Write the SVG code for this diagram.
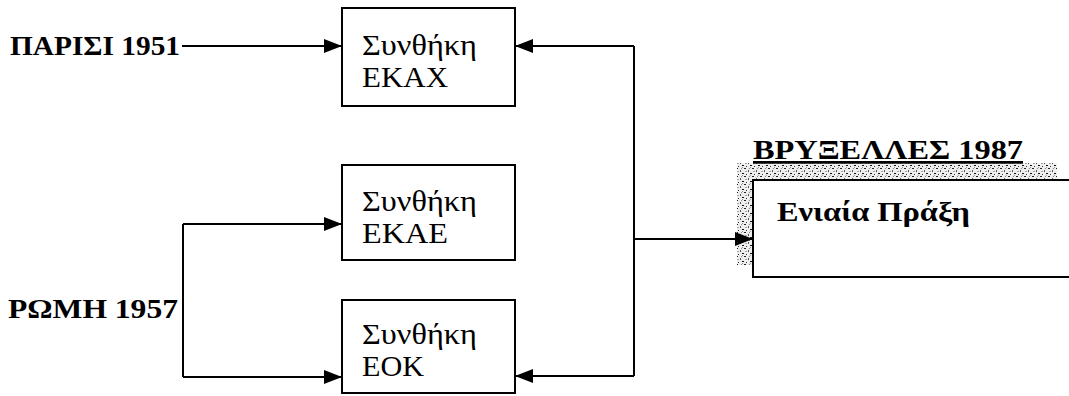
<svg xmlns="http://www.w3.org/2000/svg" width="1069" height="396" viewBox="0 0 1069 396">
<defs>
<style>
.box{fill:#fff;stroke:#000;stroke-width:2}
.ln{fill:none;stroke:#000;stroke-width:2}
.t{font-family:"Liberation Serif","DejaVu Serif",serif;font-size:30px;fill:#000}
.b{font-family:"Liberation Serif","DejaVu Serif",serif;font-size:27px;font-weight:bold;fill:#000}
</style>
<marker id="ah" viewBox="0 0 18 14" refX="18" refY="7" markerWidth="18" markerHeight="14" markerUnits="userSpaceOnUse" orient="auto">
<path d="M0,0 L18,7 L0,14 Z" fill="#000"/>
</marker>
<pattern id="stip" width="8" height="8" patternUnits="userSpaceOnUse">
<rect width="8" height="8" fill="#eee"/>
<rect x="0" y="0" width="2" height="1" fill="#222"/>
<rect x="4" y="2" width="1" height="2" fill="#555"/>
<rect x="6" y="5" width="2" height="1" fill="#111"/>
<rect x="2" y="6" width="1" height="1" fill="#333"/>
<rect x="5" y="0" width="1" height="1" fill="#888"/>
<rect x="1" y="3" width="2" height="1" fill="#aaa"/>
<rect x="6" y="7" width="1" height="1" fill="#999"/>
</pattern>
</defs>
<rect width="1069" height="396" fill="#fff"/>

<g id="paris">
<text class="b" x="10" y="55" textLength="170" lengthAdjust="spacingAndGlyphs">ΠΑΡΙΣΙ 1951</text>
</g>
<g id="rome">
<text class="b" x="8" y="318" textLength="170" lengthAdjust="spacingAndGlyphs">ΡΩΜΗ 1957</text>
</g>

<g id="ekax">
<rect class="box" x="342" y="8" width="173" height="98"/>
<text class="t" x="362" y="55" textLength="115" lengthAdjust="spacingAndGlyphs">Συνθήκη</text>
<text class="t" x="362" y="87" textLength="86" lengthAdjust="spacingAndGlyphs">ΕΚΑΧ</text>
</g>
<g id="ekae">
<rect class="box" x="342" y="165" width="173" height="95"/>
<text class="t" x="362" y="211" textLength="115" lengthAdjust="spacingAndGlyphs">Συνθήκη</text>
<text class="t" x="362" y="243" textLength="86" lengthAdjust="spacingAndGlyphs">ΕΚΑΕ</text>
</g>
<g id="eok">
<rect class="box" x="342" y="300" width="173" height="93"/>
<text class="t" x="362" y="344" textLength="115" lengthAdjust="spacingAndGlyphs">Συνθήκη</text>
<text class="t" x="362" y="376" textLength="62" lengthAdjust="spacingAndGlyphs">ΕΟΚ</text>
</g>

<g id="single-act">
<rect x="737" y="163" width="320" height="16" fill="url(#stip)"/>
<rect x="737" y="179" width="16" height="86" fill="url(#stip)"/>
<rect class="box" x="753" y="180" width="330" height="97"/>
<text class="b" x="777" y="221" textLength="193" lengthAdjust="spacingAndGlyphs">Ενιαία Πράξη</text>
<text class="b" x="753" y="159" textLength="270" lengthAdjust="spacingAndGlyphs" text-decoration="underline">ΒΡΥΞΕΛΛΕΣ 1987</text>
</g>

<g id="connectors">
<line class="ln" x1="182" y1="46" x2="342" y2="46" marker-end="url(#ah)"/>
<polyline class="ln" points="183,224 183,377"/>
<line class="ln" x1="183" y1="224" x2="342" y2="224" marker-end="url(#ah)"/>
<line class="ln" x1="183" y1="377" x2="342" y2="377" marker-end="url(#ah)"/>
<polyline class="ln" points="634,46 634,376"/>
<line class="ln" x1="634" y1="46" x2="515" y2="46" marker-end="url(#ah)"/>
<line class="ln" x1="634" y1="376" x2="515" y2="376" marker-end="url(#ah)"/>
<line class="ln" x1="634" y1="239" x2="753" y2="239" marker-end="url(#ah)"/>
</g>
</svg>
